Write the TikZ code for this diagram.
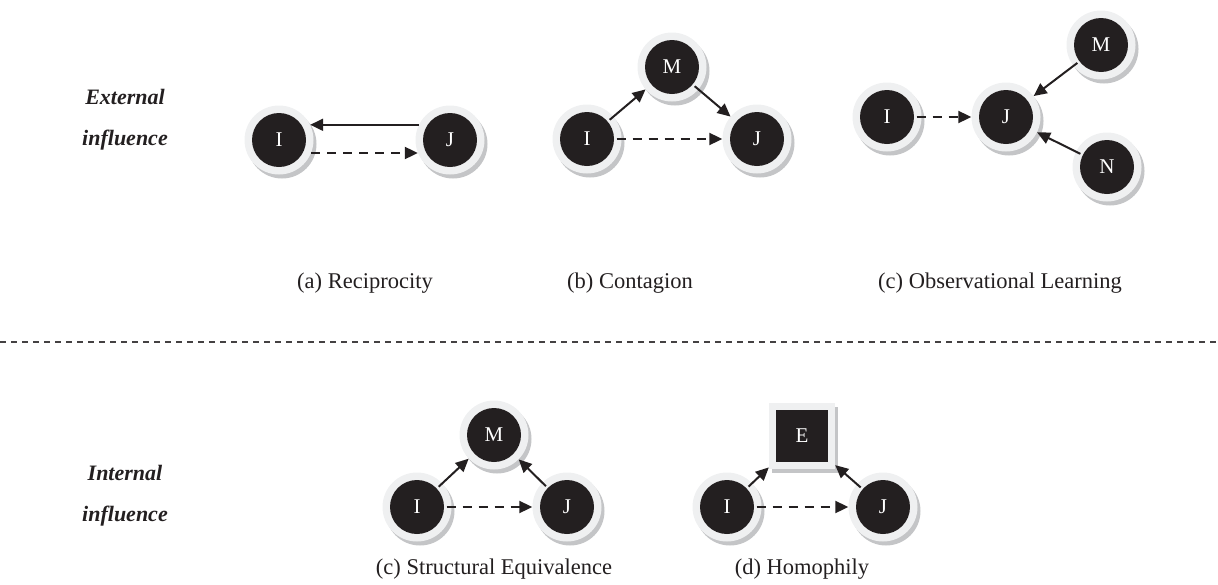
\documentclass[tikz,border=0pt]{standalone}
\usepackage{fontspec}
\setmainfont{Liberation Serif}
\usetikzlibrary{arrows.meta,shadows}
\definecolor{ink}{HTML}{231F20}
\definecolor{ring}{HTML}{EFF0F1}
\definecolor{shade}{HTML}{C4C5C7}
\tikzset{
  agent/.style={circle, minimum size=69pt, inner sep=0pt, fill=ring,
    drop shadow={fill=shade, opacity=1, shadow xshift=3pt, shadow yshift=-4pt},
    path picture={\fill[ink] (path picture bounding box.center) circle (27pt);},
    text=white, font=\fontsize{21}{21}\selectfont},
  factor/.style={rectangle, minimum size=66pt, inner sep=0pt, fill=ring,
    drop shadow={fill=shade, opacity=1, shadow xshift=3pt, shadow yshift=-4pt},
    path picture={\fill[ink] ([shift={(-26pt,-26pt)}]path picture bounding box.center) rectangle +(52pt,52pt);},
    text=white, font=\fontsize{21}{21}\selectfont},
  link/.style={line width=2pt, draw=ink, shorten <=-5pt, -{Triangle[length=13pt,width=12pt]}},
  hint/.style={link, dash pattern=on 9pt off 7pt},
  caption/.style={font=\fontsize{22.5}{26}\selectfont, text=ink},
  side/.style={font=\bfseries\itshape\fontsize{22}{26}\selectfont, text=ink}
}
\begin{document}
\begin{tikzpicture}[x=1pt, y=-1pt]
\useasboundingbox (0,0) rectangle (1218,584);

% row labels
\node[side] (ext1) at (125,97) {External};
\node[side] (ext2) at (125,140) {influence};
\node[side] (int1) at (125,473) {Internal};
\node[side] (int2) at (125,516) {influence};

% (a) reciprocity
\node[agent] (aI) at (279,140) {I};
\node[agent] (aJ) at (450,140) {J};
\draw[link, shorten <=0pt] (aJ.154) -- (aI.26);
\draw[hint, shorten <=0pt] (aI.-22) -- (aJ.-158);
\node[caption] (capa) at (365,283) {(a) Reciprocity};

% (b) contagion
\node[agent] (bM) at (672,67) {M};
\node[agent] (bI) at (587,139) {I};
\node[agent] (bJ) at (757,139) {J};
\draw[link] (bI) -- (bM);
\draw[link] (bM) -- (bJ);
\draw[hint] (bI) -- (bJ);
\node[caption] (capb) at (630,283) {(b) Contagion};

% (c) observational learning
\node[agent] (cI) at (887,117) {I};
\node[agent] (cJ) at (1006,117) {J};
\node[agent] (cM) at (1101,45) {M};
\node[agent] (cN) at (1107,167) {N};
\draw[hint] (cI) -- (cJ);
\draw[link] (cM) -- (cJ);
\draw[link] (cN) -- (cJ);
\node[caption] (capc) at (1000,283) {(c) Observational Learning};

% separator
\coordinate (sepL) at (0,342);
\coordinate (sepR) at (1218,342);
\draw[ink!85, line width=1.1pt, dash pattern=on 6pt off 5pt] (sepL) -- (sepR);

% (c) structural equivalence
\node[agent] (dM) at (494,435) {M};
\node[agent] (dI) at (417,507) {I};
\node[agent] (dJ) at (567,507) {J};
\draw[link] (dI) -- (dM);
\draw[link] (dJ) -- (dM);
\draw[hint] (dI) -- (dJ);
\node[caption] (capd) at (494,569) {(c) Structural Equivalence};

% (d) homophily
\node[factor] (eE) at (802,436) {E};
\node[agent] (eI) at (727,507) {I};
\node[agent] (eJ) at (883,507) {J};
\draw[link] (eI) -- (eE);
\draw[link] (eJ) -- (eE);
\draw[hint] (eI) -- (eJ);
\node[caption] (cape) at (802,569) {(d) Homophily};
\end{tikzpicture}
\end{document}
